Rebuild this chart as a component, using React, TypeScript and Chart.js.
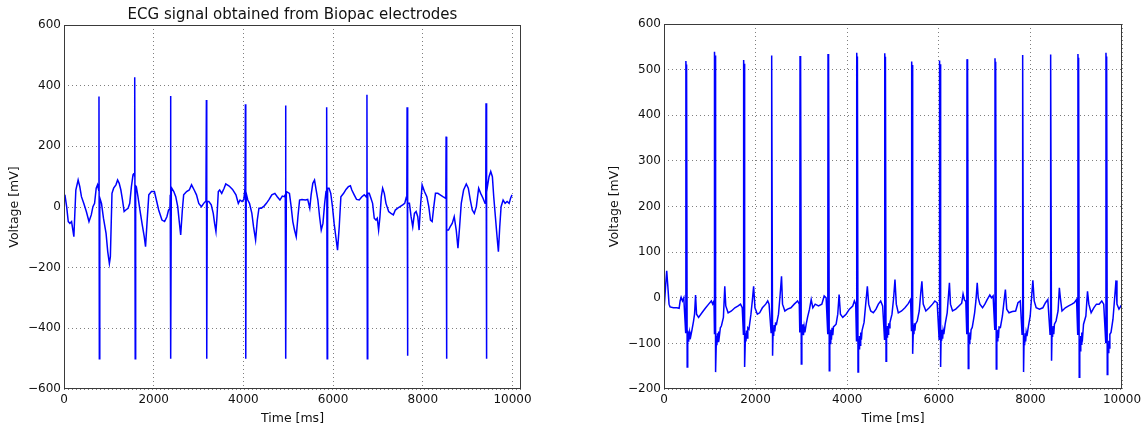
import React, { useEffect, useRef } from "react";
import { Chart, registerables } from "chart.js";

Chart.register(...registerables);

// ---------------- data ----------------
const chartTitle = "ECG signal obtained from Biopac electrodes";
const xAxisLabel = "Time [ms]";
const yAxisLabel = "Voltage [mV]";

const leftXTicks = [0, 2000, 4000, 6000, 8000, 10000];
const leftYTicks = [-600, -400, -200, 0, 200, 400, 600];
const rightXTicks = [0, 2000, 4000, 6000, 8000, 10000];
const rightYTicks = [-200, -100, 0, 100, 200, 300, 400, 500, 600];

// [time ms, voltage mV]
const leftTrace: number[][] = [
  [0, 40], [22, 38], [59, 1], [95, -48], [132, -54], [169, -48], [220, -98], [264, 56], [315, 89], [352, 67],
  [389, 34], [440, 12], [498, -15], [557, -48], [608, -26], [645, 1], [682, 12], [718, 62], [748, 73], [774, 55],
  [780, 364], [788, -500], [798, 30],
  [836, 12], [880, -37], [938, -87], [975, -147], [1012, -186], [1034, -164], [1070, 45], [1107, 62], [1158, 73],
  [1195, 89], [1231, 78], [1268, 56], [1305, 23], [1341, -15], [1378, -10], [1429, -4], [1466, 12], [1503, 67],
  [1539, 106], [1566, 112], [1574, 100],
  [1580, 428], [1588, -500], [1598, 70],
  [1613, 67], [1649, 34], [1693, -10], [1745, -59], [1789, -98], [1818, -131], [1855, -43], [1891, 40], [1950, 51],
  [2016, 51], [2060, 23], [2111, -10], [2184, -43], [2243, -48], [2294, -32], [2331, -10], [2362, -5], [2369, 40],
  [2375, 366], [2383, -500], [2393, 55],
  [2404, 62], [2448, 51], [2492, 34], [2536, 1], [2566, -43], [2602, -92], [2639, -10], [2668, 40], [2734, 51],
  [2793, 56], [2844, 73], [2903, 56], [2954, 40], [3005, 12], [3064, 1], [3115, 12], [3165, 20],
  [3175, 353], [3183, -500], [3193, 18],
  [3230, 18], [3283, 7], [3328, -21], [3358, -54], [3388, -81], [3411, -32], [3441, 51], [3471, 56], [3517, 45],
  [3570, 62], [3607, 76], [3683, 69], [3758, 58], [3834, 40], [3887, 12], [3925, 23], [3970, 18], [4010, 25], [4035, 60],
  [4045, 339], [4053, -500], [4063, 45],
  [4098, 23], [4136, 12], [4189, -21], [4226, -65], [4272, -109], [4310, -43], [4347, -4], [4400, -4], [4461, 3],
  [4513, 12], [4574, 25], [4634, 40], [4702, 45], [4755, 34], [4815, 23], [4868, 36], [4913, 34], [4934, 40],
  [4940, 335], [4948, -500], [4958, 51],
  [5027, 45], [5065, 1], [5102, -48], [5140, -76], [5178, -98], [5216, -32], [5253, 23], [5306, 25], [5382, 23],
  [5434, 25], [5480, -4], [5510, 40], [5548, 78], [5586, 89], [5623, 56], [5661, 23], [5699, -32], [5736, -76],
  [5774, -54], [5812, 12], [5842, 51], [5854, 55],
  [5860, 329], [5868, -500], [5878, 62],
  [5910, 62], [5948, 45], [5986, 1], [6023, -54], [6061, -98], [6099, -142], [6137, -65], [6174, 34], [6235, 45],
  [6288, 58], [6341, 67], [6386, 70], [6418, 56], [6471, 40], [6523, 25], [6583, 23], [6642, 34], [6695, 40],
  [6732, 34], [6749, 40],
  [6755, 370], [6763, -500], [6773, 45],
  [6806, 45], [6844, 29], [6881, 12], [6918, -37], [6956, -43], [6985, -37], [7015, -76], [7045, -32], [7075, 34],
  [7105, 62], [7142, 45], [7179, 12], [7239, -15], [7291, -21], [7344, -26], [7388, -10], [7441, -4], [7493, 1],
  [7552, 7], [7597, 12], [7627, 29], [7644, 25],
  [7650, 329], [7658, -490], [7668, 12],
  [7702, 12], [7739, -32], [7776, -65], [7814, -21], [7851, -15], [7888, -32], [7918, -76], [7948, 1], [7985, 73],
  [8037, 51], [8090, 34], [8134, 1], [8172, -43], [8209, -48], [8246, 1], [8283, 45], [8336, 45], [8388, 40],
  [8448, 34], [8507, 29], [8514, 30],
  [8520, 232], [8528, -500], [8538, -76],
  [8574, -76], [8612, -65], [8656, -54], [8701, -32], [8746, -76], [8784, -136], [8821, -65], [8858, 12], [8910, 56],
  [8970, 76], [9015, 62], [9060, 23], [9104, -10], [9149, -21], [9194, 1], [9246, 62], [9291, 45], [9343, 29],
  [9388, 12], [9404, 30],
  [9410, 342], [9418, -500], [9428, 50],
  [9477, 100], [9515, 117], [9552, 100], [9582, 34], [9619, -32], [9656, -98], [9686, -147], [9716, -65], [9746, 1],
  [9791, 23], [9836, 12], [9880, 18], [9925, 12], [9960, 30], [9990, 40],
];

const rightTrace: number[][] = [
  [0, -29], [37, 29], [59, 59], [81, 29], [110, -14], [132, -20], [205, -22], [279, -22], [330, -23], [352, -7],
  [374, 1], [403, -7], [432, 0],
  [473, -76], [478, 519], [488, 477], [493, 511], [506, -152],
  [518, -72], [528, -95], [540, -74], [552, -90], [565, -76], [585, -84], [608, -72], [645, -51], [667, -36], [689, 6],
  [711, -36], [755, -43], [828, -33], [902, -23], [975, -14], [1034, -7], [1063, -14], [1092, -7],
  [1100, -80], [1105, 539], [1115, 497], [1120, 531], [1133, -163],
  [1145, -84], [1155, -104], [1167, -78], [1180, -96], [1193, -74], [1209, -84], [1230, -66], [1253, -62], [1297, -43],
  [1327, 25], [1349, -18], [1400, -33], [1473, -29], [1547, -22], [1620, -18], [1671, -14], [1708, -22],
  [1734, -80], [1739, 521], [1749, 479], [1754, 513], [1767, -152],
  [1779, -78], [1790, -96], [1802, -72], [1814, -88], [1830, -66], [1855, -69], [1898, -36], [1928, -7], [1957, 25],
  [1986, -22], [2038, -36], [2089, -33], [2148, -22], [2221, -14], [2265, -7], [2294, -14],
  [2338, -76], [2343, 531], [2353, 489], [2358, 523], [2371, -127],
  [2383, -66], [2394, -84], [2406, -60], [2419, -74], [2435, -56], [2456, -58], [2500, -36], [2536, 7], [2566, 47],
  [2588, -14], [2639, -29], [2698, -25], [2771, -22], [2844, -14], [2917, -7], [2954, -14],
  [2965, -76], [2970, 530], [2980, 488], [2985, 522], [2998, -145],
  [3010, -60], [3020, -80], [3032, -58], [3045, -82], [3060, -64], [3076, -76], [3105, -58], [3134, -43], [3177, -25],
  [3214, -4], [3250, -22], [3301, -14], [3373, -18], [3446, -14], [3497, 4], [3540, 0],
  [3576, -80], [3581, 534], [3591, 492], [3596, 526], [3609, -160],
  [3620, -76], [3630, -100], [3642, -70], [3656, -92], [3670, -66], [3685, -82], [3700, -64], [3758, -58], [3794, -36],
  [3823, 7], [3852, -36], [3903, -43], [3976, -36], [4048, -25], [4121, -18], [4157, -7], [4186, -14],
  [4203, -94], [4208, 537], [4218, 495], [4223, 529], [4236, -163],
  [4248, -90], [4258, -112], [4270, -84], [4281, -104], [4295, -76], [4310, -92], [4324, -72], [4368, -54], [4404, -14],
  [4440, 25], [4469, -14], [4513, -29], [4571, -33], [4629, -25], [4680, -14], [4731, -7], [4774, -18],
  [4815, -91], [4820, 536], [4830, 494], [4835, 528], [4848, -139],
  [4860, -66], [4870, -86], [4880, -62], [4891, -80], [4905, -56], [4920, -66], [4934, -54], [4978, -36], [5014, 0],
  [5043, 40], [5072, -14], [5116, -33], [5188, -29], [5261, -22], [5333, -13], [5384, -4],
  [5403, -72], [5408, 518], [5418, 476], [5423, 510], [5436, -123],
  [5447, -60], [5457, -80], [5468, -56], [5478, -72], [5490, -58], [5529, -51], [5573, -29], [5609, 14], [5631, 36],
  [5660, -14], [5718, -29], [5791, -22], [5863, -14], [5914, -7], [5965, -11],
  [6007, -91], [6012, 520], [6022, 478], [6027, 512], [6040, -152],
  [6052, -74], [6062, -94], [6073, -70], [6084, -90], [6095, -72], [6110, -80], [6139, -58], [6183, -33], [6215, 10],
  [6232, 33], [6255, -14], [6300, -29], [6370, -25], [6440, -18], [6500, -12], [6530, 8], [6560, -5], [6590, -8],
  [6611, -80], [6616, 523], [6626, 481], [6631, 515], [6644, -155],
  [6656, -82], [6666, -100], [6678, -76], [6690, -92], [6705, -70], [6730, -65], [6753, -51], [6782, -33], [6810, -7],
  [6839, 33], [6861, 0], [6897, -14], [6955, -22], [7006, -14], [7056, -4], [7114, 6], [7150, 0], [7186, 4],
  [7222, -69], [7227, 525], [7237, 483], [7242, 517], [7255, -156],
  [7267, -74], [7277, -94], [7289, -70], [7302, -88], [7316, -64], [7345, -65], [7389, -40], [7425, -7], [7454, 18],
  [7483, -25], [7533, -33], [7606, -30], [7678, -29], [7729, -11], [7779, -7],
  [7818, -80], [7823, 532], [7833, 490], [7838, 524], [7851, -163],
  [7863, -84], [7874, -104], [7886, -78], [7897, -96], [7909, -76], [7925, -84], [7953, -65], [7996, -40], [8025, 0],
  [8054, 38], [8083, -7], [8126, -22], [8199, -25], [8271, -22], [8329, -11], [8380, -4],
  [8429, -80], [8434, 533], [8444, 491], [8449, 525], [8462, -138],
  [8474, -66], [8484, -86], [8496, -62], [8510, -80], [8525, -58], [8560, -51], [8604, -29], [8632, 22], [8654, 0],
  [8690, -29], [8763, -22], [8835, -18], [8907, -14], [8958, -11], [9008, -4],
  [9033, -80], [9038, 534], [9048, 492], [9053, 526], [9066, -174],
  [9078, -90], [9088, -116], [9100, -84], [9110, -102], [9122, -76], [9140, -86], [9160, -58], [9211, -40], [9247, 14],
  [9276, -14], [9326, -33], [9384, -22], [9442, -14], [9500, -14], [9558, -7], [9601, -14],
  [9645, -98], [9650, 537], [9660, 495], [9665, 529], [9678, -168],
  [9690, -100], [9700, -120], [9712, -94], [9722, -110], [9735, -80], [9760, -76], [9803, -47], [9840, 0], [9869, 38],
  [9890, -14], [9934, -25], [9977, -18], [10000, -20],
];

// ---------------- styling ----------------
const FONT = "'DejaVu Sans', sans-serif";
const TEXT = "#111";
const LINE = "#0000ff";

const framePlugin = {
  id: "frame",
  afterDatasetsDraw(chart: any) {
    const { ctx, chartArea } = chart;
    const l = Math.round(chartArea.left) + 0.5;
    const t = Math.round(chartArea.top) + 0.5;
    const r = Math.round(chartArea.right) - 0.5;
    const b = Math.round(chartArea.bottom) - 0.5;
    ctx.save();
    ctx.strokeStyle = "#3a3a3a";
    ctx.lineWidth = 1;
    ctx.strokeRect(l, t, r - l, b - t);
    ctx.restore();
  },
};

const fmt = (v: number) => String(v).replace("-", "\u2212");

interface Opts {
  trace: number[][];
  xTicks: number[];
  yTicks: number[];
  xMax: number;
  yMin: number;
  yMax: number;
  title?: string;
  yAxisWidth: number;
  padTop: number;
  padRight: number;
  yTitlePad: number;
}

function makeConfig(o: Opts): any {
  const grid = {
    color: "rgba(0,0,0,0.5)",
    lineWidth: 1,
    drawTicks: false,
  };
  const border = { display: false, dash: [1, 3] };
  return {
    type: "line",
    data: {
      datasets: [
        {
          data: o.trace.map((p) => ({ x: p[0], y: p[1] })),
          borderColor: LINE,
          borderWidth: 1.5,
          pointRadius: 0,
          fill: false,
          tension: 0,
        },
      ],
    },
    options: {
      animation: false,
      responsive: false,
      maintainAspectRatio: false,
      devicePixelRatio: 1,
      layout: { padding: { top: o.padTop, right: o.padRight, left: 0, bottom: 0 } },
      plugins: {
        legend: { display: false },
        tooltip: { enabled: false },
        title: o.title
          ? {
              display: true,
              fullSize: false,
              text: o.title,
              color: TEXT,
              font: { family: FONT, size: 15, weight: "normal", lineHeight: 1.2 },
              padding: { top: 6, bottom: 1 },
            }
          : { display: false },
      },
      scales: {
        x: {
          type: "linear",
          min: 0,
          max: o.xMax,
          afterBuildTicks: (s: any) => {
            s.ticks = o.xTicks.map((v) => ({ value: v }));
          },
          afterFit: (s: any) => {
            s.height = 41;
          },
          ticks: {
            autoSkip: false,
            maxRotation: 0,
            padding: 3.8,
            color: TEXT,
            font: { family: FONT, size: 12 },
            callback: (v: number) => fmt(v),
          },
          grid,
          border,
          title: {
            display: true,
            text: xAxisLabel,
            color: TEXT,
            font: { family: FONT, size: 12.5, lineHeight: 1.2 },
            padding: { top: 0, bottom: 3.5 },
          },
        },
        y: {
          type: "linear",
          min: o.yMin,
          max: o.yMax,
          afterBuildTicks: (s: any) => {
            s.ticks = o.yTicks.map((v) => ({ value: v }));
          },
          afterFit: (s: any) => {
            s.width = o.yAxisWidth;
          },
          ticks: {
            autoSkip: false,
            padding: 3,
            color: TEXT,
            font: { family: FONT, size: 12 },
            callback: (v: number) => fmt(v),
          },
          grid,
          border,
          title: {
            display: true,
            text: yAxisLabel,
            color: TEXT,
            font: { family: FONT, size: 12.5, lineHeight: 1.2 },
            padding: { top: o.yTitlePad, bottom: 0 },
          },
        },
      },
    },
    plugins: [framePlugin],
  };
}

function EcgChart({ config, left, width }: { config: any; left: number; width: number }) {
  const ref = useRef<HTMLCanvasElement>(null);
  useEffect(() => {
    if (!ref.current) return;
    const chart = new Chart(ref.current, config);
    return () => chart.destroy();
  }, []);
  return (
    <canvas
      ref={ref}
      width={width}
      height={430}
      style={{ position: "absolute", left, top: 0, width, height: 430 }}
    />
  );
}

const leftConfig = makeConfig({
  trace: leftTrace,
  xTicks: leftXTicks,
  yTicks: leftYTicks,
  xMax: 10190,
  yMin: -600,
  yMax: 600,
  title: chartTitle,
  yAxisWidth: 64,
  padTop: 0,
  padRight: 39,
  yTitlePad: 7.5,
});

const rightConfig = makeConfig({
  trace: rightTrace,
  xTicks: rightXTicks,
  yTicks: rightYTicks,
  xMax: 10000,
  yMin: -200,
  yMax: 600,
  yAxisWidth: 94,
  padTop: 24,
  padRight: 24,
  yTitlePad: 37.5,
});

export default function App() {
  return (
    <div
      style={{
        position: "absolute",
        left: 0,
        top: 0,
        width: 1146,
        height: 430,
        background: "#fff",
        overflow: "hidden",
      }}
    >
      <EcgChart config={leftConfig} left={0} width={560} />
      <EcgChart config={rightConfig} left={570} width={576} />
    </div>
  );
}
